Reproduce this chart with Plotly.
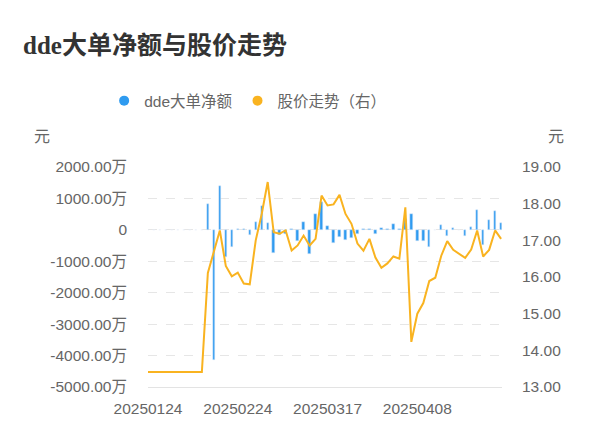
import plotly.graph_objects as go

# trading days shown on the category axis
dates = [
    '20250124', '20250127', '20250205', '20250206', '20250207', '20250210',
    '20250211', '20250212', '20250213', '20250214', '20250217', '20250218',
    '20250219', '20250220', '20250221', '20250224', '20250225', '20250226',
    '20250227', '20250228', '20250303', '20250304', '20250305', '20250306',
    '20250307', '20250310', '20250311', '20250312', '20250313', '20250314',
    '20250317', '20250318', '20250319', '20250320', '20250321', '20250324',
    '20250325', '20250326', '20250327', '20250328', '20250331', '20250401',
    '20250402', '20250403', '20250407', '20250408', '20250409', '20250410',
    '20250411', '20250414', '20250415', '20250416', '20250417', '20250418',
    '20250421', '20250422', '20250423', '20250424', '20250425', '20250428',
]

# dde net large orders, unit: 万
dde_net = [
    0, 0, 0, 0, 0, 0, 0, 0, 0, 0,
    830, -4150, 1390, -870, -540, 15, 25, -160, 245, 760,
    225, -730, -170, -120, 15, -360, 255, -770, 520, 890,
    120, -410, -233, -337, -262, -145, 30, 30, -127, 60,
    20, 180, 15, 360, 511, -350, -350, -540, -18, 165,
    -205, 70, -15, -205, 85, 617, -485, 310, 585, 230,
]

# share price (right axis)
price = [
    13.41, 13.41, 13.41, 13.41, 13.41, 13.41, 13.41, 13.41, 13.41, 13.41,
    16.11, 16.68, 17.27, 16.30, 16.02, 16.12, 15.82, 15.80, 17.00, 17.72,
    18.59, 17.22, 17.18, 17.27, 16.72, 16.86, 17.13, 16.86, 17.04, 18.22,
    17.95, 17.98, 18.24, 17.72, 17.45, 16.91, 16.72, 17.04, 16.53, 16.25,
    16.37, 16.56, 16.50, 17.90, 14.23, 15.00, 15.29, 15.89, 15.98, 16.58,
    16.98, 16.74, 16.63, 16.52, 16.75, 17.27, 16.56, 16.74, 17.27, 17.04,
]

left_vals = [2000, 1000, 0, -1000, -2000, -3000, -4000, -5000]
left_text = ['2000.00万', '1000.00万', '0', '-1000.00万', '-2000.00万',
             '-3000.00万', '-4000.00万', '-5000.00万']
x_ticks = ['20250124', '20250224', '20250317', '20250408']

blue = '#2f9bf0'
orange = '#f9b320'
grey = '#666666'
sans = 'Liberation Sans, Noto Sans CJK SC, sans-serif'

# the page body adds an 8px margin, so the figure is sized to fit inside it
W, H = 584, 430
plot_w, plot_h = 354.2, 220.2

fig = go.Figure()
fig.add_trace(go.Bar(x=dates, y=dde_net, marker_color=blue, width=0.4,
                     showlegend=False, name='dde大单净额'))
fig.add_trace(go.Scatter(x=dates, y=price, yaxis='y2', mode='lines',
                         line=dict(color=orange, width=2),
                         showlegend=False, name='股价走势（右）'))
# legend entries with round markers
fig.add_trace(go.Scatter(x=[None], y=[None], mode='markers', name='dde大单净额',
                         marker=dict(color=blue, size=10)))
fig.add_trace(go.Scatter(x=[None], y=[None], mode='markers', name='股价走势（右）',
                         marker=dict(color=orange, size=10)))

fig.update_layout(
    width=W, height=H,
    margin=dict(l=140.3, r=W - 140.3 - plot_w, t=158.5, b=H - 158.5 - plot_h),
    plot_bgcolor='white', paper_bgcolor='white',
    font=dict(family=sans, color=grey, size=15),
    title=dict(text='<b>dde大单净额与股价走势</b>', x=15 / W, xanchor='left',
               y=1 - 37 / H, yanchor='middle',
               font=dict(family='Liberation Serif, Noto Sans CJK SC, serif',
                         size=25, color='#333333')),
    legend=dict(orientation='h', x=(248 - 148.3) / plot_w, xanchor='center',
                y=1 + 66 / plot_h, yanchor='middle',
                font=dict(size=15.5, color=grey),
                itemwidth=30, tracegroupgap=0),
    bargap=0,
    xaxis=dict(type='category', range=[0, 59.15], tickmode='array',
               tickvals=x_ticks, ticktext=x_ticks, showgrid=False,
               showline=True, linecolor='#e3e3e3', linewidth=1,
               ticks='', tickfont=dict(size=15.5), ticklabelstandoff=7),
    yaxis=dict(range=[-5000, 2000], tickmode='array', tickvals=left_vals,
               ticktext=left_text, showgrid=True, gridcolor='#e6e6e6',
               griddash='dash', zeroline=False, ticks='',
               tickfont=dict(size=15.5), ticklabelstandoff=20),
    yaxis2=dict(range=[13, 19], overlaying='y', side='right', dtick=1,
                tickformat='.2f', showgrid=False, zeroline=False, ticks='',
                tickfont=dict(size=15.5), ticklabelstandoff=19),
    annotations=[
        dict(text='元', xref='paper', yref='paper', x=-106 / plot_w,
             y=1 + 31 / plot_h, showarrow=False, font=dict(size=16, color=grey),
             xanchor='center', yanchor='middle'),
        dict(text='元', xref='paper', yref='paper', x=1 + 54 / plot_w,
             y=1 + 31 / plot_h, showarrow=False, font=dict(size=16, color=grey),
             xanchor='center', yanchor='middle'),
    ],
)

fig.write_html('out.html')
